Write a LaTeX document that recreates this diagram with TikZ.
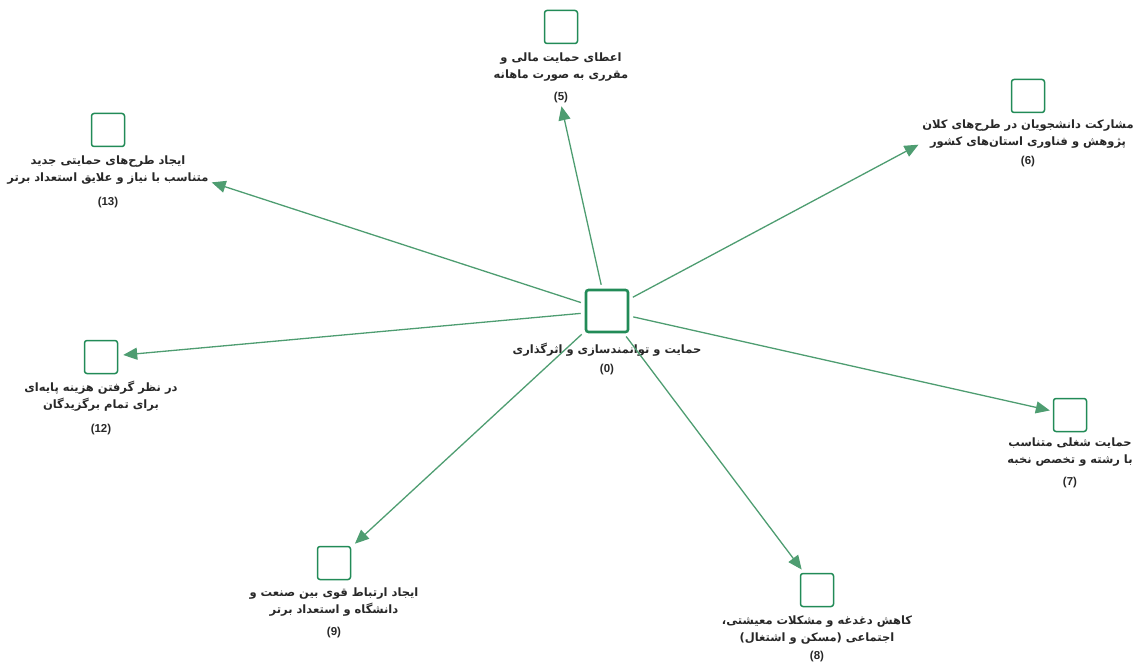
\documentclass[tikz,border=0pt]{standalone}
\usepackage{fontspec}
\setmainfont{Liberation Sans}
\newfontfamily\fafont[Script=Arabic]{DejaVu Sans}
\usetikzlibrary{arrows.meta,positioning}
\TeXXeTstate=1
\definecolor{boxgreen}{RGB}{34,139,87}
\definecolor{arrowgreen}{RGB}{78,157,113}
\definecolor{labelgray}{RGB}{40,40,40}
\newcommand{\fa}[1]{{\fafont\beginR #1\endR}}

\begin{document}
\begin{tikzpicture}[x=1pt,y=-1pt,
    goal/.style={draw=boxgreen,line width=1.5pt,rounded corners=2.5pt,minimum size=33pt,inner sep=0pt},
    core/.style={goal,line width=2.6pt,minimum size=42pt},
    caption/.style={align=center,text=labelgray,font=\bfseries\fontsize{11.5}{17}\selectfont,inner sep=1pt},
    link/.style={draw=arrowgreen,line width=1.3pt,shorten <=4pt,-{Triangle[length=14pt,width=12pt]}}]
  \useasboundingbox (0,0) rectangle (1142,663);
  % central goal
  \node[core] (c) at (607,311) {};
  \node[caption,below=9pt of c] (lc) {\fa{حمایت و توانمندسازی و اثرگذاری}\\[1.5pt](0)};
  % sub goals
  \node[goal] (b5) at (561,27) {};
  \node[goal] (b6) at (1028,96) {};
  \node[goal] (b13) at (108,130) {};
  \node[goal] (b12) at (101,357) {};
  \node[goal] (b7) at (1070,415) {};
  \node[goal] (b9) at (334,563) {};
  \node[goal] (b8) at (817,590) {};
  \node[caption,below=7pt of b5] (l5) {\fa{اعطای حمایت مالی و}\\\fa{مقرری به صورت ماهانه}\\[5.5pt](5)};
  \node[caption,below=5pt of b6] (l6) {\fa{مشارکت دانشجویان در طرح‌های کلان}\\\fa{پژوهش و فناوری استان‌های کشور}\\[2.5pt](6)};
  \node[caption,below=7pt of b13] (l13) {\fa{ایجاد طرح‌های حمایتی جدید}\\\fa{متناسب با نیاز و علایق استعداد برتر}\\[7.5pt](13)};
  \node[caption,below=6pt of b12] (l12) {\fa{در نظر گرفتن هزینه پایه‌ای}\\\fa{برای تمام برگزیدگان}\\[6.5pt](12)};
  \node[caption,below=4pt of b7] (l7) {\fa{حمایت شغلی متناسب}\\\fa{با رشته و تخصص نخبه}\\[5.5pt](7)};
  \node[caption,below=6pt of b9] (l9) {\fa{ایجاد ارتباط قوی بین صنعت و}\\\fa{دانشگاه و استعداد برتر}\\[5.5pt](9)};
  \node[caption,below=7pt of b8] (l8) {\fa{کاهش دغدغه و مشکلات معیشتی،}\\\fa{اجتماعی (مسکن و اشتغال)}\\[1.5pt](8)};
  % links
  \draw[link,shorten >=2pt] (c) -- (l5.south);
  \draw[link,shorten >=3pt] (c) -- (l6.west);
  \draw[link,shorten >=2pt] (c) -- (l13.east);
  \draw[link,shorten >=5pt] (c) -- (b12);
  \draw[link,shorten >=3pt] (c) -- (b7);
  \draw[link,shorten >=5pt] (c) -- (b9);
  \draw[link,shorten >=4pt] (c) -- (b8);
\end{tikzpicture}
\end{document}
